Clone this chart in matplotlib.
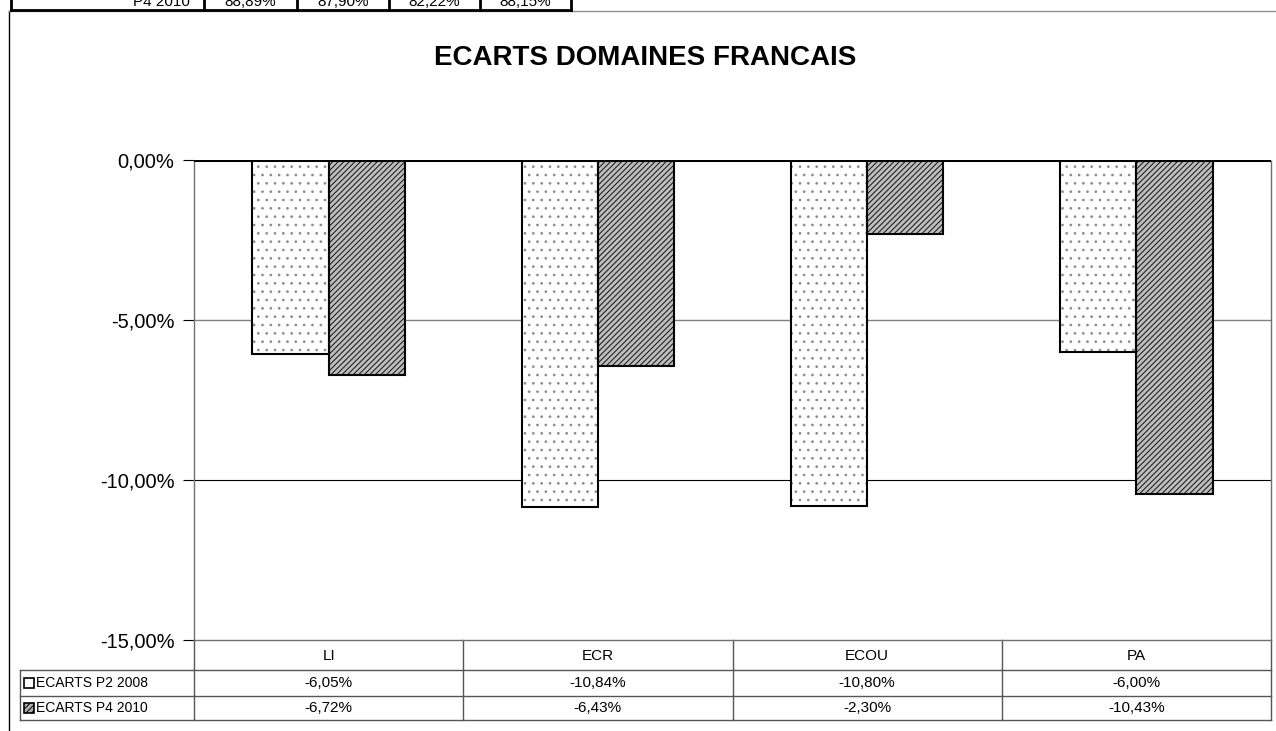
import numpy as np
import matplotlib.pyplot as plt
import matplotlib.transforms as mtransforms

# donnees
categories = ["LI", "ECR", "ECOU", "PA"]
series_names = ["ECARTS P2 2008", "ECARTS P4 2010"]
ecarts_p2_2008 = [-6.05, -10.84, -10.80, -6.00]
ecarts_p4_2010 = [-6.72, -6.43, -2.30, -10.43]
yticks = [0, -5, -10, -15]

# tableau coupe en haut de la page
top_label = "P4 2010"
top_values = ["88,89%", "87,90%", "82,22%", "88,15%"]

W, H = 1276, 731
fig = plt.figure(figsize=(W / 100, H / 100), dpi=100)
plt.rcParams['hatch.linewidth'] = 0.7


def fx(x):
    return x / W


def fy(y):
    return 1 - y / H


def fmt(v):
    return ("%.2f%%" % v).replace(".", ",")


# zone du graphique
ax = fig.add_axes([fx(194), fy(640), fx(1271) - fx(194), fy(160) - fy(640)])
x = np.arange(len(categories))
w = 0.283

# serie 1 : points clairsemes
ax.bar(x - w / 2, ecarts_p2_2008, w, color="white", hatch="..", edgecolor="#8a8a8a", linewidth=0, zorder=2)
ax.bar(x - w / 2, ecarts_p2_2008, w, fill=False, edgecolor="black", linewidth=1.5, zorder=3)
# serie 2 : hachures denses
ax.bar(x + w / 2, ecarts_p4_2010, w, color="#bdbdbd", hatch="//////", edgecolor="#111111", linewidth=0, zorder=2)
ax.bar(x + w / 2, ecarts_p4_2010, w, fill=False, edgecolor="black", linewidth=1.5, zorder=3)

ax.set_xlim(-0.5, 3.5)
ax.set_ylim(-15, 0)
ax.set_yticks(yticks)
ax.set_yticklabels([fmt(v) for v in yticks], fontsize=14.5, family="Liberation Sans")
ax.tick_params(axis="y", length=8, width=0.8, pad=6)
ax.set_xticks([])
ax.axhline(-5, color="#808080", linewidth=1, zorder=1)
ax.axhline(-10, color="black", linewidth=0.8, zorder=1)
ax.axhline(0, color="black", linewidth=2.2, zorder=4)
for side in ["left", "bottom", "right"]:
    ax.spines[side].set_linestyle((0, (1, 1)))
    ax.spines[side].set_color("#707070")
    ax.spines[side].set_linewidth(1)
ax.spines["top"].set_visible(False)

# titre
fig.text(fx(645), fy(58), "ECARTS DOMAINES FRANCAIS", ha="center", va="center",
         fontsize=20, fontweight="bold", family="Liberation Sans")

# cadre du graphique
fig.add_artist(plt.Line2D([fx(9), fx(9)], [fy(11), fy(731)], color="black", linewidth=1))
fig.add_artist(plt.Line2D([fx(9), fx(1276)], [fy(11), fy(11)], color="#909090", linewidth=1))

# tableau de donnees sous le graphique
tr = mtransforms.blended_transform_factory(ax.transData, fig.transFigure)
rows_y = [640, 670, 696, 720]
edges = np.arange(len(categories) + 1) - 0.5
for e in edges:
    ax.add_artist(plt.Line2D([e, e], [fy(640), fy(720)], transform=tr, color="#555555",
                             linewidth=1, clip_on=False))
for ry in rows_y[1:]:
    fig.add_artist(plt.Line2D([fx(20), fx(1271)], [fy(ry), fy(ry)], color="#555555", linewidth=1))
fig.add_artist(plt.Line2D([fx(20), fx(20)], [fy(670), fy(720)], color="#555555", linewidth=1))

for i, c in enumerate(categories):
    ax.text(i, fy(656), c, transform=tr, ha="center", va="center", fontsize=11, family="Liberation Sans")
    ax.text(i, fy(683), fmt(ecarts_p2_2008[i]), transform=tr, ha="center", va="center",
            fontsize=11, family="Liberation Sans")
    ax.text(i, fy(708), fmt(ecarts_p4_2010[i]), transform=tr, ha="center", va="center",
            fontsize=11, family="Liberation Sans")

# cles de legende dans le tableau
key_styles = [dict(facecolor="white", hatch=None), dict(facecolor="#b0b0b0", hatch="//////")]
for j, (name, ry) in enumerate(zip(series_names, [683, 708])):
    st = key_styles[j]
    fig.add_artist(plt.Rectangle((fx(24), fy(ry + 5)), fx(10), 10 / H, transform=fig.transFigure,
                                 facecolor=st["facecolor"], hatch=st["hatch"], edgecolor="black",
                                 linewidth=1.2))
    fig.text(fx(36), fy(ry), name, ha="left", va="center", fontsize=10, family="Liberation Sans")

# tableau coupe en haut
top_cols = [11, 204, 297, 389, 480, 571]
for cx in top_cols:
    fig.add_artist(plt.Line2D([fx(cx), fx(cx)], [fy(0), fy(10)], color="black", linewidth=2))
fig.add_artist(plt.Line2D([fx(11), fx(571)], [fy(10), fy(10)], color="black", linewidth=2))
fig.text(fx(190), fy(2), top_label, ha="right", va="center", fontsize=11, family="Liberation Sans")
for k, v in enumerate(top_values):
    fig.text(fx((top_cols[k + 1] + top_cols[k + 2]) / 2), fy(2), v, ha="center", va="center",
             fontsize=11, family="Liberation Sans")

fig.savefig("out.png", dpi=100)
